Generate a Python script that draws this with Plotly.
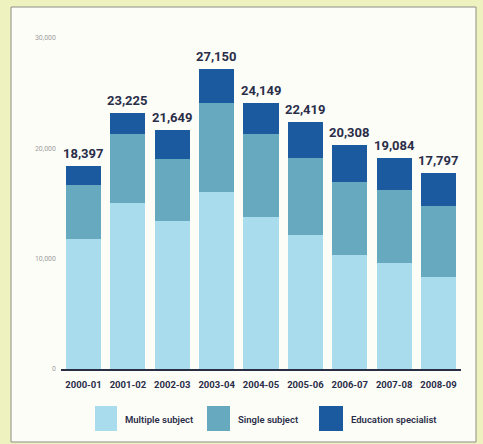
import plotly.graph_objects as go

# ---- data ----
years = ["2000-01", "2001-02", "2002-03", "2003-04", "2004-05",
         "2005-06", "2006-07", "2007-08", "2008-09"]
multiple_subject = [11790, 15050, 13420, 16070, 13750, 12120, 10340, 9610, 8340]
single_subject = [4890, 6280, 5650, 8070, 7580, 7040, 6610, 6620, 6460]
education_specialist = [1717, 1895, 2579, 3010, 2819, 3259, 3358, 2854, 2997]
totals = [18397, 23225, 21649, 27150, 24149, 22419, 20308, 19084, 17797]
y_ticks = [0, 10000, 20000, 30000]
series_names = ["Multiple subject", "Single subject", "Education specialist"]

# ---- style ----
C_MULTI = "#a9dcec"
C_SINGLE = "#67a9bf"
C_EDU = "#1c5a9f"
NAVY = "#2a2d48"
BG = "#eef2bf"
PANEL = "#fdfdf8"
FONT = "Roboto"

W, H = 483, 444
ML, MR, MT, MB = 61, 22, 38, 75
PW = W - ML - MR
PH = H - MT - MB


def px_x(px):
    return (px - ML) / PW


def px_y(py):
    return (H - MB - py) / PH


fig = go.Figure()
for name, vals, col in zip(series_names,
                           [multiple_subject, single_subject, education_specialist],
                           [C_MULTI, C_SINGLE, C_EDU]):
    fig.add_trace(go.Bar(x=years, y=vals, name=name, marker_color=col,
                         marker_line_width=0, showlegend=False))

annotations = []
for yr, tot in zip(years, totals):
    annotations.append(dict(x=yr, y=tot, xref="x", yref="y", text=f"{tot:,}",
                            showarrow=False, yanchor="bottom", yshift=3,
                            font=dict(family=FONT, size=13, color=NAVY, weight="bold")))

shapes = [dict(type="rect", xref="paper", yref="paper",
               x0=px_x(11), x1=px_x(476), y0=px_y(442), y1=px_y(7),
               fillcolor=PANEL, line=dict(color="#8e8e86", width=1), layer="below")]

# custom legend
legend_items = [(95, 117, 123), (207, 230, 236), (319, 343, 349)]
for (sx0, sx1, tx), name, col in zip(legend_items, series_names, [C_MULTI, C_SINGLE, C_EDU]):
    shapes.append(dict(type="rect", xref="paper", yref="paper",
                       x0=px_x(sx0), x1=px_x(sx1), y0=px_y(431), y1=px_y(406),
                       fillcolor=col, line=dict(width=0)))
    annotations.append(dict(x=px_x(tx), y=px_y(419), xref="paper", yref="paper",
                            text=name, showarrow=False, xanchor="left", yanchor="middle",
                            font=dict(family=FONT, size=9.5, color=NAVY, weight=600)))

fig.update_layout(
    width=W, height=H,
    margin=dict(l=ML, r=MR, t=MT, b=MB),
    barmode="stack", bargap=0.21,
    paper_bgcolor=BG, plot_bgcolor="rgba(0,0,0,0)",
    shapes=shapes, annotations=annotations,
    showlegend=False,
    xaxis=dict(type="category", showline=True, linecolor="#2a2e45", linewidth=2,
               showgrid=False, ticks="",
               tickfont=dict(family=FONT, size=9.5, color=NAVY, weight="bold"),
               ticklabelstandoff=6),
    yaxis=dict(range=[0, 30000], tickvals=y_ticks, tickformat=",", showgrid=False,
               zeroline=False, showline=False, ticks="",
               tickfont=dict(family=FONT, size=7, color="#a0a0a0"),
               ticklabelstandoff=4),
)

fig.write_html("out.html", config={"displayModeBar": False},
               post_script="document.body.style.margin='0';document.body.style.background='%s';" % BG)
